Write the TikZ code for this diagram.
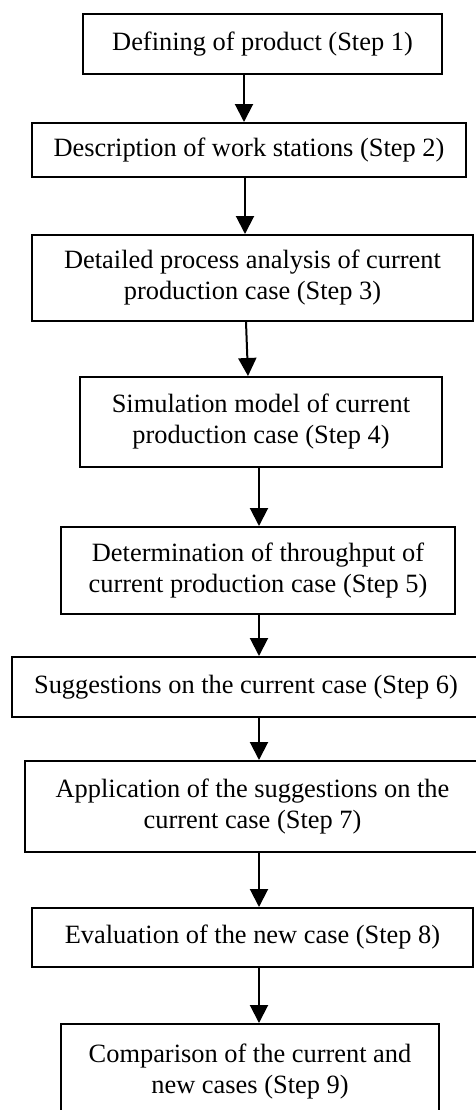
\documentclass[tikz,border=0pt]{standalone}
\usepackage{fontspec}
\setmainfont{Liberation Serif}
\usetikzlibrary{arrows.meta}

\begin{document}
\begin{tikzpicture}[x=0.5pt, y=-0.5pt,
    stepbox/.style={draw, line width=1pt, inner sep=0pt, align=center,
        font=\fontsize{13.2}{15.5}\selectfont},
    flow/.style={line width=1pt, -{Triangle[width=9pt,length=9pt]}}]
    \useasboundingbox (0,0) rectangle (476,1110);
    \clip (0,0) rectangle (476,1110);

    % boxes placed at their centres (coordinates in pixels of the page)
    \node[stepbox, minimum width=179.5pt, minimum height=30pt]   (s1) at (262.5,44)   {Defining of product (Step 1)};
    \node[stepbox, minimum width=217pt,   minimum height=27pt]   (s2) at (249,150)    {Description of work stations (Step 2)};
    \node[stepbox, minimum width=220.5pt, minimum height=43pt]   (s3) at (252.5,278)  {Detailed process analysis of current\\production case (Step 3)};
    \node[stepbox, minimum width=181pt,   minimum height=45pt]   (s4) at (261,422)    {Simulation model of current\\production case (Step 4)};
    \node[stepbox, minimum width=197pt,   minimum height=43.5pt] (s5) at (258,570.5)  {Determination of throughput of\\current production case (Step 5)};
    \node[stepbox, minimum width=234pt,   minimum height=30pt]   (s6) at (246,687)    {Suggestions on the current case (Step 6)};
    \node[stepbox, minimum width=227.5pt, minimum height=45.5pt] (s7) at (252.5,806.5) {Application of the suggestions on the\\current case (Step 7)};
    \node[stepbox, minimum width=220.5pt, minimum height=29.5pt] (s8) at (252.5,937.5) {Evaluation of the new case (Step 8)};
    \node[stepbox, minimum width=189pt,   minimum height=48pt]   (s9) at (250,1072)   {Comparison of the current and\\new cases (Step 9)};

    % connectors
    \draw[flow] (s1.south -| 244,0) -- (s2.north -| 244,0);
    \draw[flow] (s2.south -| 245,0) -- (s3.north -| 245,0);
    \draw[flow] (s3.south -| 246,0) -- (s4.north -| 248,0);
    \foreach \a/\b in {s4/s5, s5/s6, s6/s7, s7/s8, s8/s9}
        \draw[flow] (\a.south -| 259,0) -- (\b.north -| 259,0);
\end{tikzpicture}
\end{document}
